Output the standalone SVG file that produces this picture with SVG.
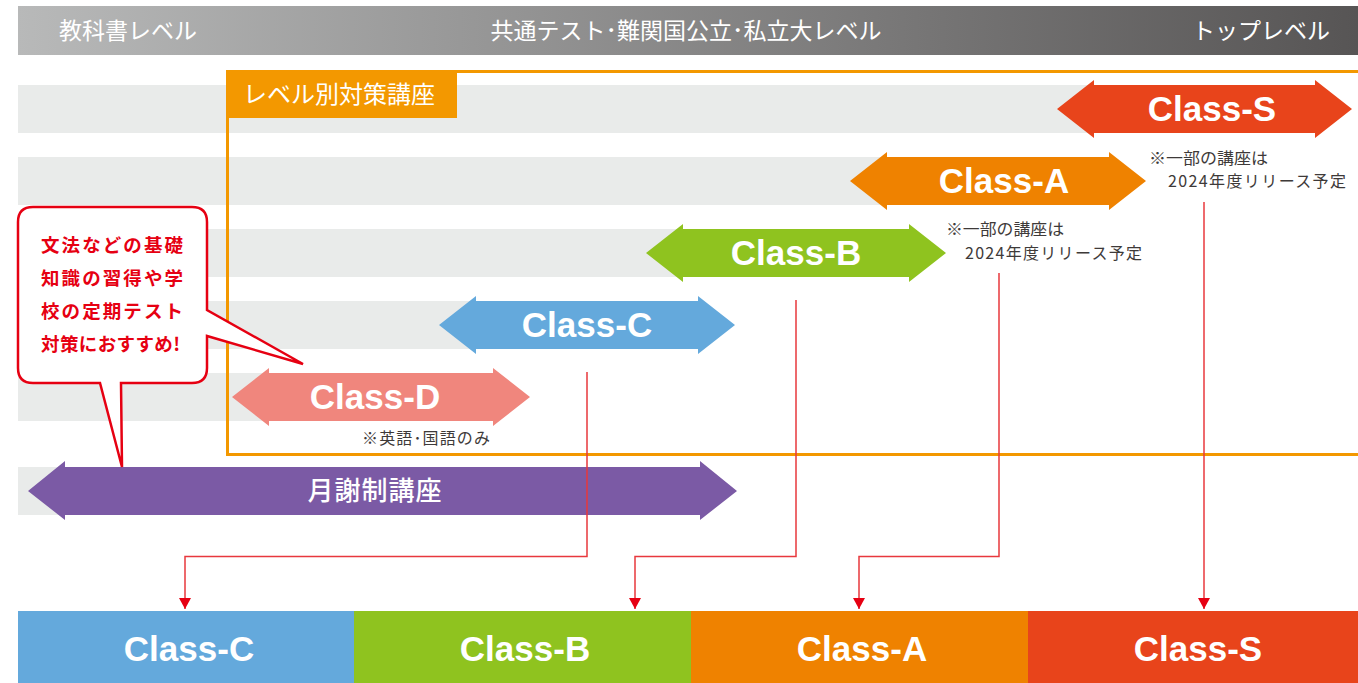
<svg xmlns="http://www.w3.org/2000/svg" width="1358" height="683" viewBox="0 0 1358 683">
<defs>
<linearGradient id="hdr" x1="0" y1="0" x2="1" y2="0">
<stop offset="0" stop-color="#b8b9b9"/>
<stop offset="1" stop-color="#575555"/>
</linearGradient>
<marker id="ah" viewBox="0 0 11 12" refX="11" refY="6" markerWidth="11" markerHeight="12" markerUnits="userSpaceOnUse" orient="auto">
<path d="M0,0 L11,6 L0,12 Z" fill="#e60012"/>
</marker>
<style>
.stripe{fill:#e9ebea}
.hdrt{font-family:"Noto Sans CJK JP","Noto Sans",sans-serif;font-size:23px;fill:#ffffff}
.cls{font-family:"Liberation Sans",Arial,sans-serif;font-weight:bold;font-size:35px;fill:#ffffff;text-anchor:middle}
.note{font-family:"Noto Sans CJK JP","Noto Sans",sans-serif;font-size:16px;fill:#3e3a39}
.bub{font-family:"Noto Sans CJK JP","Noto Sans",sans-serif;font-size:18.5px;font-weight:bold;fill:#e60012}
.conn{fill:none;stroke:#e8383d;stroke-width:1.5}
</style>
</defs>

<g id="stripes">
<rect class="stripe" x="18" y="85" width="1300" height="48"/>
<rect class="stripe" x="18" y="157" width="1080" height="48"/>
<rect class="stripe" x="18" y="229" width="880" height="48"/>
<rect class="stripe" x="18" y="301" width="680" height="48"/>
<rect class="stripe" x="18" y="373" width="460" height="48"/>
<rect class="stripe" x="18" y="467" width="680" height="48"/>
</g>

<g id="header">
<rect x="18" y="6" width="1340" height="49" fill="url(#hdr)"/>
<text class="hdrt" x="128" y="39" text-anchor="middle">教科書レベル</text>
<text class="hdrt" x="686" y="39" text-anchor="middle">共通テスト･難関国公立･私立大レベル</text>
<text class="hdrt" x="1261" y="39" text-anchor="middle">トップレベル</text>
</g>

<g id="level-box">
<path d="M1358,71.5 H227.5 V454.5 H1358" fill="none" stroke="#f39800" stroke-width="3"/>
<rect x="226" y="70" width="231" height="48" fill="#f39800"/>
<text x="339" y="103" text-anchor="middle" font-family="'Noto Sans CJK JP','Noto Sans',sans-serif" font-size="24" fill="#ffffff">レベル別対策講座</text>
</g>

<g id="class-s">
<path d="M1057,109 L1094,80 L1094,85 L1315,85 L1315,80 L1352,109 L1315,138 L1315,133 L1094,133 L1094,138 Z" fill="#e8441b"/>
<text class="cls" x="1212" y="121">Class-S</text>
</g>
<g id="class-a">
<path d="M850,181 L887,152 L887,157 L1109,157 L1109,152 L1146,181 L1109,210 L1109,205 L887,205 L887,210 Z" fill="#ef8200"/>
<text class="cls" x="1004" y="193">Class-A</text>
</g>
<g id="class-b">
<path d="M646,253 L683,224 L683,229 L909,229 L909,224 L946,253 L909,282 L909,277 L683,277 L683,282 Z" fill="#8fc31f"/>
<text class="cls" x="796" y="265">Class-B</text>
</g>
<g id="class-c">
<path d="M439,325 L476,296 L476,301 L698,301 L698,296 L735,325 L698,354 L698,349 L476,349 L476,354 Z" fill="#64a9dc"/>
<text class="cls" x="587" y="337">Class-C</text>
</g>
<g id="class-d">
<path d="M232,397 L269,368 L269,373 L493,373 L493,368 L530,397 L493,426 L493,421 L269,421 L269,426 Z" fill="#f0867d"/>
<text class="cls" x="375" y="409">Class-D</text>
</g>
<g id="monthly">
<path d="M28,491 L65,461 L65,467 L700,467 L700,461 L737,491 L700,520 L700,515 L65,515 L65,520 Z" fill="#7b5aa5"/>
<text x="375" y="500" text-anchor="middle" font-family="'Noto Sans CJK JP','Noto Sans',sans-serif" font-size="26" font-weight="500" letter-spacing="1" fill="#ffffff">月謝制講座</text>
</g>

<g id="notes">
<text class="note" x="1149" y="164" textLength="119" lengthAdjust="spacingAndGlyphs">※一部の講座は</text>
<text class="note" x="1168" y="187" textLength="178" lengthAdjust="spacing">2024年度リリース予定</text>
<text class="note" x="946" y="235" textLength="118" lengthAdjust="spacingAndGlyphs">※一部の講座は</text>
<text class="note" x="965" y="259" textLength="177" lengthAdjust="spacing">2024年度リリース予定</text>
<text class="note" x="362" y="444" textLength="128" lengthAdjust="spacing">※英語･国語のみ</text>
</g>

<g id="bubble">
<path d="M33,207 H192 Q207,207 207,222 V310 L303,364 L207,336 V368 Q207,383 192,383 H121 L122,467 L100,383 H33 Q18,383 18,368 V222 Q18,207 33,207 Z" fill="#ffffff" stroke="#e60012" stroke-width="2.5" stroke-linejoin="miter"/>
<text class="bub" x="41" y="252" textLength="142" lengthAdjust="spacing">文法などの基礎</text>
<text class="bub" x="41" y="285" textLength="142" lengthAdjust="spacing">知識の習得や学</text>
<text class="bub" x="41" y="318" textLength="142" lengthAdjust="spacing">校の定期テスト</text>
<text class="bub" x="41" y="351" textLength="139" lengthAdjust="spacing">対策におすすめ!</text>
</g>

<g id="connectors">
<path class="conn" d="M587,372 V556.5 H185 V609" marker-end="url(#ah)"/>
<path class="conn" d="M796,300 V556.5 H635 V609" marker-end="url(#ah)"/>
<path class="conn" d="M999,273 V556.5 H859 V609" marker-end="url(#ah)"/>
<path class="conn" d="M1204,202 V609" marker-end="url(#ah)"/>
</g>

<g id="bottom-c">
<rect x="18" y="611" width="336" height="72" fill="#64a9dc"/>
<text class="cls" x="189" y="661">Class-C</text>
</g>
<g id="bottom-b">
<rect x="354" y="611" width="337" height="72" fill="#8fc31f"/>
<text class="cls" x="525" y="661">Class-B</text>
</g>
<g id="bottom-a">
<rect x="691" y="611" width="337" height="72" fill="#ef8200"/>
<text class="cls" x="862" y="661">Class-A</text>
</g>
<g id="bottom-s">
<rect x="1028" y="611" width="330" height="72" fill="#e8441b"/>
<text class="cls" x="1198" y="661">Class-S</text>
</g>
</svg>
